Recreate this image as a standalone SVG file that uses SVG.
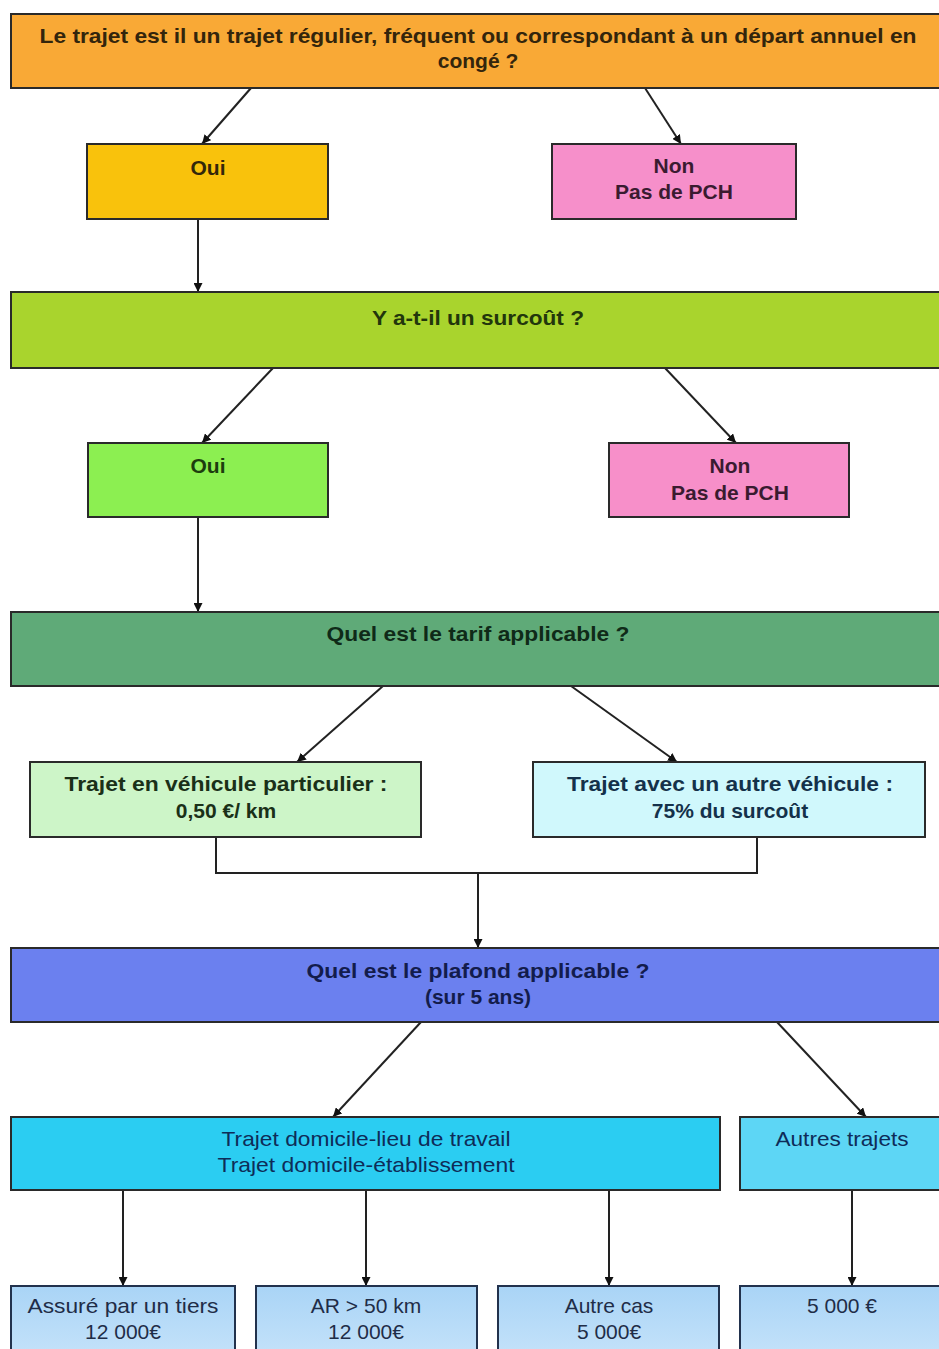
<svg xmlns="http://www.w3.org/2000/svg" width="939" height="1349" viewBox="0 0 939 1349">
<style>
.box{stroke:#2a2a2a;stroke-width:2}
.bb{stroke:#22324d;stroke-width:2}
.t{font-family:"Liberation Sans",Arial,sans-serif;font-size:21px;font-weight:bold;text-anchor:middle}
.r{font-family:"Liberation Sans",Arial,sans-serif;font-size:21px;text-anchor:middle}
.c{stroke:#222;stroke-width:2;fill:none}
</style>
<defs>
<marker id="ah" viewBox="0 0 10 10" refX="10" refY="5" markerWidth="9" markerHeight="9" markerUnits="userSpaceOnUse" orient="auto">
<path d="M0,0 L10,5 L0,10 z" fill="#111"/>
</marker>
<linearGradient id="gb" x1="0" y1="0" x2="0" y2="1">
<stop offset="0" stop-color="#a9d4f6"/>
<stop offset="1" stop-color="#c8e4fa"/>
</linearGradient>
</defs>
<rect width="939" height="1349" fill="#ffffff"/>

<g id="connectors">
<line class="c" x1="251" y1="88" x2="202" y2="144" marker-end="url(#ah)"/>
<line class="c" x1="645" y1="88" x2="681" y2="144" marker-end="url(#ah)"/>
<line class="c" x1="198" y1="219" x2="198" y2="292" marker-end="url(#ah)"/>
<line class="c" x1="273" y1="368" x2="202" y2="443" marker-end="url(#ah)"/>
<line class="c" x1="665" y1="368" x2="736" y2="443" marker-end="url(#ah)"/>
<line class="c" x1="198" y1="517" x2="198" y2="612" marker-end="url(#ah)"/>
<line class="c" x1="383" y1="686" x2="297" y2="762" marker-end="url(#ah)"/>
<line class="c" x1="571" y1="686" x2="677" y2="762" marker-end="url(#ah)"/>
<path class="c" d="M216,837 V873 H757 V837"/>
<line class="c" x1="478" y1="873" x2="478" y2="948" marker-end="url(#ah)"/>
<line class="c" x1="421" y1="1022" x2="333" y2="1117" marker-end="url(#ah)"/>
<line class="c" x1="777" y1="1022" x2="866" y2="1117" marker-end="url(#ah)"/>
<line class="c" x1="123" y1="1190" x2="123" y2="1286" marker-end="url(#ah)"/>
<line class="c" x1="366" y1="1190" x2="366" y2="1286" marker-end="url(#ah)"/>
<line class="c" x1="609" y1="1190" x2="609" y2="1286" marker-end="url(#ah)"/>
<line class="c" x1="852" y1="1190" x2="852" y2="1286" marker-end="url(#ah)"/>
</g>

<g id="q1">
<rect class="box" x="11" y="14" width="940" height="74" fill="#f9a936"/>
<text class="t" x="478" y="43" fill="#33250c" textLength="877" lengthAdjust="spacingAndGlyphs">Le trajet est il un trajet régulier, fréquent ou correspondant à un départ annuel en</text>
<text class="t" x="478" y="68" fill="#33250c">congé ?</text>
</g>
<g id="oui1">
<rect class="box" x="87" y="144" width="241" height="75" fill="#f9c20c"/>
<text class="t" x="208" y="175" fill="#33270a">Oui</text>
</g>
<g id="non1">
<rect class="box" x="552" y="144" width="244" height="75" fill="#f68fca"/>
<text class="t" x="674" y="173" fill="#3a1b30">Non</text>
<text class="t" x="674" y="199" fill="#3a1b30">Pas de PCH</text>
</g>
<g id="q2">
<rect class="box" x="11" y="292" width="940" height="76" fill="#a9d42d"/>
<text class="t" x="478" y="325" fill="#22360c" textLength="212" lengthAdjust="spacingAndGlyphs">Y a-t-il un surcoût ?</text>
</g>
<g id="oui2">
<rect class="box" x="88" y="443" width="240" height="74" fill="#8cef51"/>
<text class="t" x="208" y="473" fill="#1d3d0e">Oui</text>
</g>
<g id="non2">
<rect class="box" x="609" y="443" width="240" height="74" fill="#f78fc9"/>
<text class="t" x="730" y="473" fill="#3a1b30">Non</text>
<text class="t" x="730" y="500" fill="#3a1b30">Pas de PCH</text>
</g>
<g id="q3">
<rect class="box" x="11" y="612" width="940" height="74" fill="#5faa78"/>
<text class="t" x="478" y="641" fill="#0f2a18" textLength="303" lengthAdjust="spacingAndGlyphs">Quel est le tarif applicable ?</text>
</g>
<g id="vp">
<rect class="box" x="30" y="762" width="391" height="75" fill="#cdf5c8"/>
<text class="t" x="226" y="791" fill="#1a3018" textLength="323" lengthAdjust="spacingAndGlyphs">Trajet en véhicule particulier :</text>
<text class="t" x="226" y="818" fill="#1a3018">0,50 €/ km</text>
</g>
<g id="av">
<rect class="box" x="533" y="762" width="392" height="75" fill="#d0f8fc"/>
<text class="t" x="730" y="791" fill="#14314a" textLength="326" lengthAdjust="spacingAndGlyphs">Trajet avec un autre véhicule :</text>
<text class="t" x="730" y="818" fill="#14314a">75% du surcoût</text>
</g>
<g id="q4">
<rect class="box" x="11" y="948" width="940" height="74" fill="#6b80ef"/>
<text class="t" x="478" y="978" fill="#131c4c" textLength="343" lengthAdjust="spacingAndGlyphs">Quel est le plafond applicable ?</text>
<text class="t" x="478" y="1004" fill="#131c4c">(sur 5 ans)</text>
</g>
<g id="dom">
<rect class="box" x="11" y="1117" width="709" height="73" fill="#2bcdf2"/>
<text class="r" x="366" y="1146" fill="#0e2c58" textLength="289" lengthAdjust="spacingAndGlyphs">Trajet domicile-lieu de travail</text>
<text class="r" x="366" y="1172" fill="#0e2c58" textLength="297" lengthAdjust="spacingAndGlyphs">Trajet domicile-établissement</text>
</g>
<g id="autres">
<rect class="box" x="740" y="1117" width="211" height="73" fill="#5dd6f5"/>
<text class="r" x="842" y="1146" fill="#0e2c58" textLength="133" lengthAdjust="spacingAndGlyphs">Autres trajets</text>
</g>
<g id="b1">
<rect class="bb" x="11" y="1286" width="224" height="80" fill="url(#gb)"/>
<text class="r" x="123" y="1313" fill="#1f2d48" textLength="191" lengthAdjust="spacingAndGlyphs">Assuré par un tiers</text>
<text class="r" x="123" y="1339" fill="#1f2d48">12 000€</text>
</g>
<g id="b2">
<rect class="bb" x="256" y="1286" width="221" height="80" fill="url(#gb)"/>
<text class="r" x="366" y="1313" fill="#1f2d48">AR &gt; 50 km</text>
<text class="r" x="366" y="1339" fill="#1f2d48">12 000€</text>
</g>
<g id="b3">
<rect class="bb" x="498" y="1286" width="221" height="80" fill="url(#gb)"/>
<text class="r" x="609" y="1313" fill="#1f2d48">Autre cas</text>
<text class="r" x="609" y="1339" fill="#1f2d48">5 000€</text>
</g>
<g id="b4">
<rect class="bb" x="740" y="1286" width="211" height="80" fill="url(#gb)"/>
<text class="r" x="842" y="1313" fill="#1f2d48">5 000 €</text>
</g>
</svg>
